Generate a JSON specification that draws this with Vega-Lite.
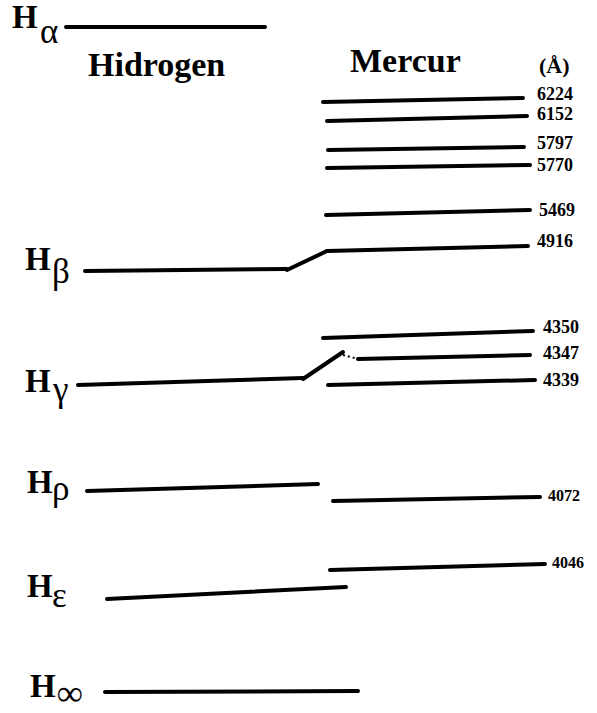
{
  "$schema": "https://vega.github.io/schema/vega-lite/v6.json",
  "width": 597,
  "height": 713,
  "padding": 0,
  "autosize": {"type": "none"},
  "background": "white",
  "config": {"view": {"stroke": null}},
  "datasets": {
    "lines": [
      {"name": "Halpha", "x": 66, "y": 27, "x2": 265, "y2": 27},
      {"name": "Hbeta", "x": 85, "y": 271, "x2": 287, "y2": 269},
      {"name": "Hbeta-link", "x": 287, "y": 270, "x2": 327, "y2": 251},
      {"name": "4916", "x": 327, "y": 251, "x2": 528, "y2": 246},
      {"name": "5469", "x": 326, "y": 215, "x2": 530, "y2": 210},
      {"name": "5770", "x": 327, "y": 168, "x2": 530, "y2": 165},
      {"name": "5797", "x": 328, "y": 150, "x2": 524, "y2": 147},
      {"name": "6152", "x": 327, "y": 121, "x2": 527, "y2": 116},
      {"name": "6224", "x": 323, "y": 102, "x2": 523, "y2": 98},
      {"name": "4350", "x": 323, "y": 338, "x2": 533, "y2": 331},
      {"name": "4347", "x": 358, "y": 359, "x2": 530, "y2": 355},
      {"name": "Hgamma", "x": 78, "y": 385, "x2": 303, "y2": 378},
      {"name": "Hgamma-link", "x": 303, "y": 379, "x2": 343, "y2": 352},
      {"name": "4339", "x": 328, "y": 385, "x2": 535, "y2": 380},
      {"name": "Hrho", "x": 87, "y": 491, "x2": 318, "y2": 484},
      {"name": "4072", "x": 333, "y": 501, "x2": 540, "y2": 497},
      {"name": "4046", "x": 330, "y": 570, "x2": 545, "y2": 564},
      {"name": "Hepsilon", "x": 107, "y": 599, "x2": 346, "y2": 587},
      {"name": "Hinf", "x": 105, "y": 692, "x2": 358, "y2": 691}
    ],
    "dotted": [
      {"x": 343, "y": 355, "x2": 358, "y2": 359}
    ],
    "hs": [
      {"x": 12, "y": 28, "t": "H"},
      {"x": 25, "y": 270, "t": "H"},
      {"x": 25, "y": 392, "t": "H"},
      {"x": 27, "y": 493, "t": "H"},
      {"x": 27, "y": 597, "t": "H"},
      {"x": 30, "y": 697, "t": "H"}
    ],
    "subs": [
      {"x": 40, "y": 43, "t": "α"},
      {"x": 52, "y": 283, "t": "β"},
      {"x": 53, "y": 401, "t": "γ"},
      {"x": 52, "y": 500, "t": "ρ"},
      {"x": 52, "y": 607, "t": "ε"}
    ],
    "inf": [
      {"x": 57, "y": 713, "t": "∞"}
    ],
    "titles": [
      {"x": 88, "y": 76, "t": "Hidrogen"},
      {"x": 350, "y": 72, "t": "Mercur"}
    ],
    "unit": [
      {"x": 539, "y": 73, "t": "(Å)"}
    ],
    "nums": [
      {"x": 537, "y": 95, "t": "6224"},
      {"x": 537, "y": 115, "t": "6152"},
      {"x": 537, "y": 144, "t": "5797"},
      {"x": 537, "y": 166, "t": "5770"},
      {"x": 539, "y": 211, "t": "5469"},
      {"x": 537, "y": 242, "t": "4916"},
      {"x": 543, "y": 328, "t": "4350"},
      {"x": 543, "y": 354, "t": "4347"},
      {"x": 543, "y": 381, "t": "4339"}
    ],
    "smallnums": [
      {"x": 548, "y": 496, "t": "4072"},
      {"x": 552, "y": 563, "t": "4046"}
    ]
  },
  "encoding": {
    "x": {"field": "x", "type": "quantitative", "scale": {"domain": [0, 597], "nice": false, "zero": false}, "axis": null},
    "y": {"field": "y", "type": "quantitative", "scale": {"domain": [0, 713], "nice": false, "zero": false, "reverse": true}, "axis": null}
  },
  "layer": [
    {
      "data": {"name": "lines"},
      "mark": {"type": "rule", "color": "black", "strokeWidth": 4, "strokeCap": "round"},
      "encoding": {"x2": {"field": "x2"}, "y2": {"field": "y2"}}
    },
    {
      "data": {"name": "dotted"},
      "mark": {"type": "rule", "color": "black", "strokeWidth": 2, "strokeDash": [2, 3]},
      "encoding": {"x2": {"field": "x2"}, "y2": {"field": "y2"}}
    },
    {
      "data": {"name": "hs"},
      "mark": {"type": "text", "align": "left", "baseline": "alphabetic", "font": "Liberation Serif", "fontWeight": "bold", "fontSize": 33, "color": "black"},
      "encoding": {"text": {"field": "t"}}
    },
    {
      "data": {"name": "subs"},
      "mark": {"type": "text", "align": "left", "baseline": "alphabetic", "font": "Liberation Serif", "fontSize": 35, "color": "black"},
      "encoding": {"text": {"field": "t"}}
    },
    {
      "data": {"name": "inf"},
      "mark": {"type": "text", "align": "left", "baseline": "bottom", "font": "Liberation Serif", "fontWeight": "bold", "fontSize": 36, "color": "black"},
      "encoding": {"text": {"field": "t"}}
    },
    {
      "data": {"name": "titles"},
      "mark": {"type": "text", "align": "left", "baseline": "alphabetic", "font": "Liberation Serif", "fontWeight": "bold", "fontSize": 34, "color": "black"},
      "encoding": {"text": {"field": "t"}}
    },
    {
      "data": {"name": "unit"},
      "mark": {"type": "text", "align": "left", "baseline": "alphabetic", "font": "Liberation Serif", "fontWeight": "bold", "fontSize": 22, "color": "black"},
      "encoding": {"text": {"field": "t"}}
    },
    {
      "data": {"name": "nums"},
      "mark": {"type": "text", "align": "left", "baseline": "middle", "font": "Liberation Serif", "fontWeight": "bold", "fontSize": 18, "color": "black"},
      "encoding": {"text": {"field": "t"}}
    },
    {
      "data": {"name": "smallnums"},
      "mark": {"type": "text", "align": "left", "baseline": "middle", "font": "Liberation Serif", "fontWeight": "bold", "fontSize": 16, "color": "black"},
      "encoding": {"text": {"field": "t"}}
    }
  ]
}
